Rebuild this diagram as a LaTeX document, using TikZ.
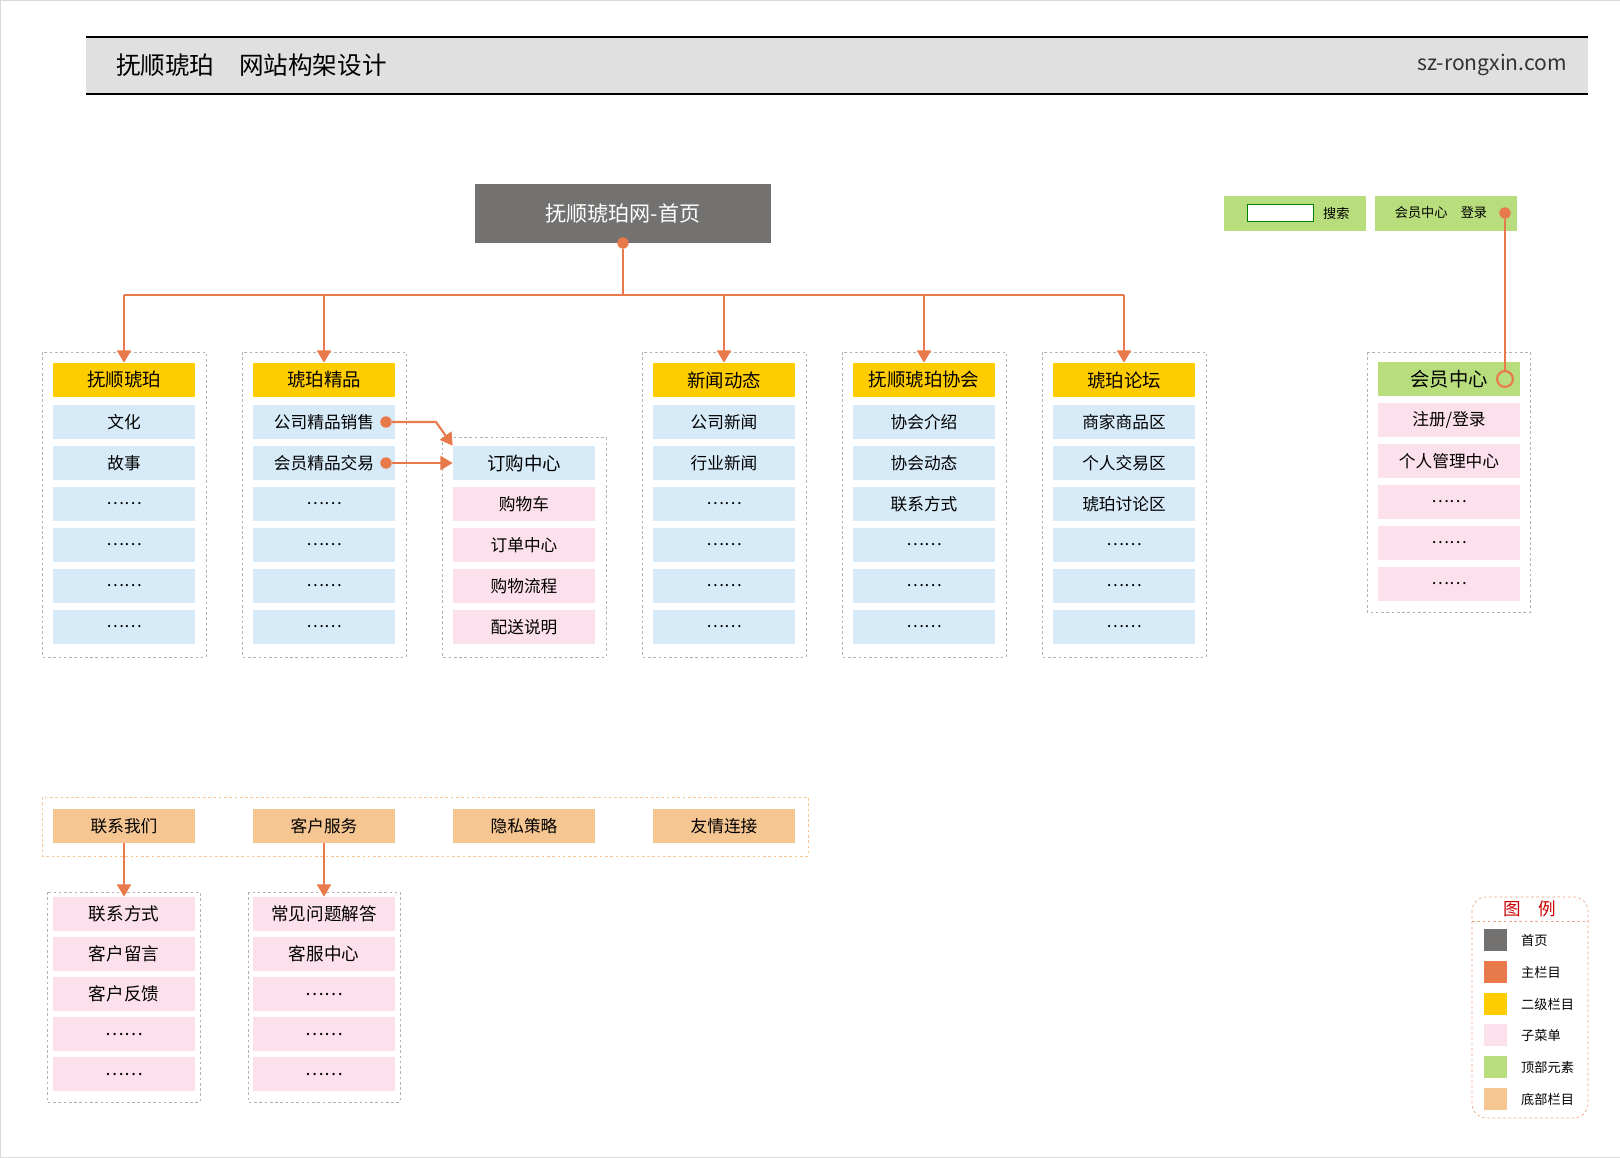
\documentclass[tikz,border=0pt]{standalone}
\usepackage{fontspec}
\setmainfont{Noto Sans CJK SC}
\usepackage{tikz}
\usetikzlibrary{positioning,arrows.meta}
\definecolor{homegray}{HTML}{737270}
\definecolor{mainorange}{HTML}{E8794A}
\definecolor{secyellow}{HTML}{FFCC00}
\definecolor{subpink}{HTML}{FCE0EC}
\definecolor{subblue}{HTML}{D6EAF8}
\definecolor{topgreen}{HTML}{B8DD7C}
\definecolor{footpeach}{HTML}{F5C592}
\begin{document}
\begin{tikzpicture}[x=0.02cm,y=-0.02cm,
  cell/.style={minimum width=2.84cm,minimum height=0.68cm,inner sep=0pt,font=\fontsize{9.5}{11}\selectfont},
  head/.style={cell,fill=secyellow,font=\fontsize{10.5}{12}\selectfont},
  blue/.style={cell,fill=subblue},
  pink/.style={cell,fill=subpink},
  foot/.style={cell,fill=footpeach},
  frame/.style={draw=gray!60,dashed,dash pattern=on 1.5pt off 1.5pt},
  link/.style={draw=mainorange,line width=1.2pt},
  arr/.style={link,-{Triangle[length=7pt,width=8pt]}},
  dot/.style={circle,fill=mainorange,inner sep=0pt,minimum size=6.5pt}]
\useasboundingbox (0,0) rectangle (1620,1157);
\draw[gray!30] (0,0) rectangle (1620,1157);
% title bar
\fill[black!12] (86,37) rectangle (1588,94);
\draw[line width=1.5pt] (86,37) -- (1588,37) (86,94) -- (1588,94);
\node[anchor=west,font=\fontsize{14}{16}\selectfont] (title) at (110,65) {抚顺琥珀\quad 网站构架设计};
\node[anchor=east,font=\fontsize{12}{14}\selectfont,text=black!80] (site) at (1573,65) {sz-rongxin.com};
% home
\node[fill=homegray,text=white,minimum width=5.92cm,minimum height=1.18cm,font=\fontsize{12}{14}\selectfont] (home) at (623,213) {抚顺琥珀网-首页};
\node[dot] (hd) at (623,243) {};
\coordinate (bus) at (623,295);
% columns
\foreach \n/\x/\t/\a/\b/\c in {c1/124/抚顺琥珀/文化/故事/……, c2/324/琥珀精品/公司精品销售/会员精品交易/……, c4/724/新闻动态/公司新闻/行业新闻/……, c5/924/抚顺琥珀协会/协会介绍/协会动态/联系方式, c6/1124/琥珀论坛/商家商品区/个人交易区/琥珀讨论区}{
  \draw[frame] (\x-82,352) rectangle (\x+82,657);
  \node[head] (\n h) at (\x,380) {\t};
  \node[blue] (\n a) at (\x,422) {\a};
  \node[blue] (\n b) at (\x,463) {\b};
  \node[blue] (\n c) at (\x,504) {\c};
  \node[blue] (\n d) at (\x,545) {……};
  \node[blue] (\n e) at (\x,586) {……};
  \node[blue] (\n f) at (\x,627) {……};
  \coordinate (\n t) at (\x,295);
  \draw[arr] (\n t) -- (\n h.north);
}
\draw[link] (hd) -- (bus) (c1t) -- (c6t);
% order centre
\draw[frame] (442,437) rectangle (606,657);
\node[blue,font=\fontsize{10.5}{12}\selectfont] (order) at (524,463) {订购中心};
\node[pink] (o1) at (524,504) {购物车};
\node[pink] (o2) at (524,545) {订单中心};
\node[pink] (o3) at (524,586) {购物流程};
\node[pink] (o4) at (524,627) {配送说明};
\node[dot] (d1) at (386,422) {};
\node[dot] (d2) at (386,463) {};
\coordinate (k1) at (436,422);
\draw[arr] (d1) -- (k1) -- (order.north west);
\draw[arr] (d2) -- (order.west);
% top green
\node[fill=topgreen,minimum width=2.84cm,minimum height=0.7cm] (search) at (1295,213) {};
\node[draw=green!50!black,fill=white,minimum width=1.32cm,minimum height=0.34cm,inner sep=0pt] (input) at (1280,213) {};
\node[font=\fontsize{7.5}{9}\selectfont,right=2pt of input] (sl) {搜索};
\node[fill=topgreen,minimum width=2.84cm,minimum height=0.7cm,font=\fontsize{7.5}{9}\selectfont] (login) at (1446,213) {\hspace*{-0.2cm}会员中心\quad 登录};
\node[dot] (d3) at (1505,213) {};
% member
\draw[frame] (1367,352) rectangle (1530,612);
\node[cell,fill=topgreen,font=\fontsize{11}{13}\selectfont] (mh) at (1449,379) {会员中心};
\node[circle,draw=mainorange,line width=1.2pt,fill=topgreen,inner sep=0pt,minimum size=9pt] (mc) at (1505,379) {};
\draw[link] (d3) -- (mc);
\node[pink] (m1) at (1449,420) {注册/登录};
\node[pink] (m2) at (1449,461) {个人管理中心};
\node[pink] (m3) at (1449,502) {……};
\node[pink] (m4) at (1449,543) {……};
\node[pink] (m5) at (1449,584) {……};
% footer
\draw[frame,draw=footpeach] (42,797) rectangle (808,856);
\node[foot] (f1) at (124,826) {联系我们};
\node[foot] (f2) at (324,826) {客户服务};
\node[foot] (f3) at (524,826) {隐私策略};
\node[foot] (f4) at (724,826) {友情连接};
\draw[frame] (47,892) rectangle (200,1102);
\draw[frame] (248,892) rectangle (400,1102);
\foreach \i/\y in {1/914,2/954,3/994,4/1034,5/1074}{
  \node[pink] (p\i) at (124,\y) {};
  \node[pink] (q\i) at (324,\y) {};
}
\node at (p1) {联系方式}; \node at (p2) {客户留言}; \node at (p3) {客户反馈};
\node at (p4) {……}; \node at (p5) {……};
\node at (q1) {常见问题解答}; \node at (q2) {客服中心}; \node at (q3) {……};
\node at (q4) {……}; \node at (q5) {……};
\draw[arr] (f1.south) -- (p1.north);
\draw[arr] (f2.south) -- (q1.north);
% legend
\draw[mainorange!70,dashed,dash pattern=on 1.5pt off 1.5pt,rounded corners=8pt] (1472,897) rectangle (1588,1118);
\draw[mainorange!70,dashed,dash pattern=on 1.5pt off 1.5pt] (1472,921) -- (1588,921);
\node[text=red!80!black,font=\fontsize{10}{12}\selectfont] (lt) at (1530,909) {图\quad 例};
\foreach \c/\t/\y in {homegray/首页/940, mainorange/主栏目/972, secyellow/二级栏目/1004, subpink/子菜单/1035, topgreen/顶部元素/1067, footpeach/底部栏目/1099}{
  \fill[\c] (1484,\y-11) rectangle (1507,\y+11);
  \node[anchor=west,font=\fontsize{7.5}{9}\selectfont] at (1515,\y) {\t};
}
\end{tikzpicture}
\end{document}
